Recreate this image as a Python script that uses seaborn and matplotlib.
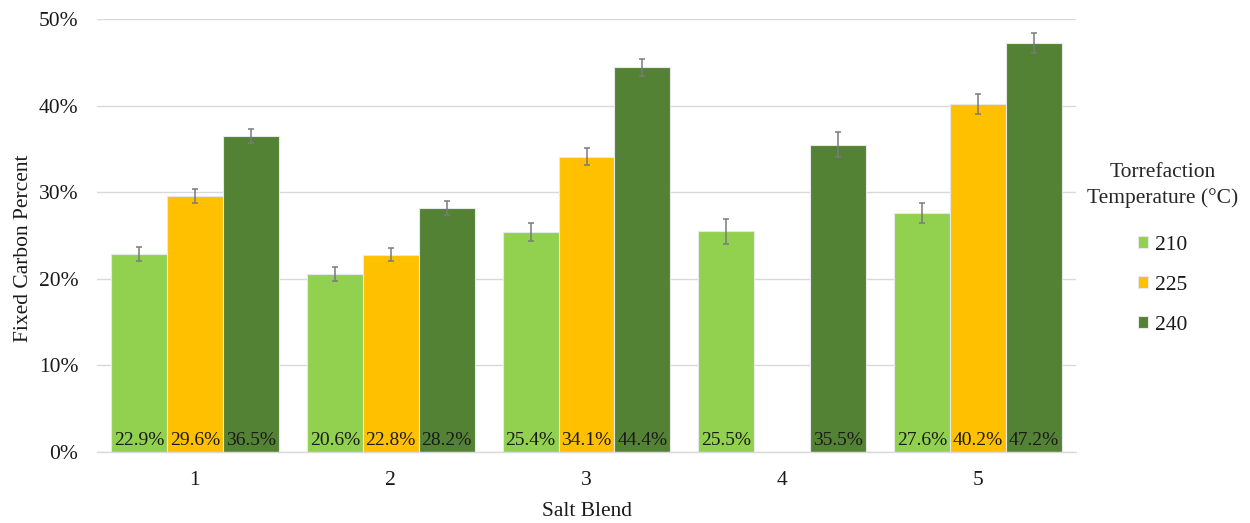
import numpy as np
import pandas as pd
import matplotlib
matplotlib.use("Agg")
import matplotlib.pyplot as plt
from matplotlib.ticker import FuncFormatter, FixedLocator
import seaborn as sns

# Fixed carbon content (%) per salt blend and torrefaction temperature
blends = ["1", "2", "3", "4", "5"]
temps = ["210", "225", "240"]
fc_210 = [22.9, 20.6, 25.4, 25.5, 27.6]
fc_225 = [29.6, 22.8, 34.1, np.nan, 40.2]
fc_240 = [36.5, 28.2, 44.4, 35.5, 47.2]
err_210 = [0.8, 0.8, 1.0, 1.45, 1.15]
err_225 = [0.8, 0.8, 1.0, np.nan, 1.15]
err_240 = [0.8, 0.8, 1.0, 1.45, 1.15]
colors = ["#92D050", "#FFC000", "#548235"]

rows = []
for t, vals, errs in zip(temps, [fc_210, fc_225, fc_240], [err_210, err_225, err_240]):
    for b, v, e in zip(blends, vals, errs):
        if not np.isnan(v):
            rows.append({"Salt Blend": b, "Temp": t, "FC": v, "err": e})
df = pd.DataFrame(rows)

sns.set_theme(style="white")
plt.rcParams["font.family"] = ["Liberation Serif", "DejaVu Serif"]

fig = plt.figure(figsize=(12.5, 5.23), dpi=100)
ax = fig.add_axes([0.0776, 0.1358, 0.7832, 0.8279])

sns.barplot(data=df, x="Salt Blend", y="FC", hue="Temp", order=blends,
            hue_order=temps, palette=colors, width=0.857, errorbar=None,
            edgecolor="#e8e8e8", linewidth=0.8, saturation=1, ax=ax, zorder=2)

# Error bars and value labels from each bar
for t, container in zip(temps, ax.containers):
    sub = df[df["Temp"] == t].set_index("Salt Blend")
    for bar in container:
        xc = bar.get_x() + bar.get_width() / 2
        b = blends[int(round(xc))]
        v = sub.loc[b, "FC"]
        e = sub.loc[b, "err"]
        ax.errorbar(xc, v, yerr=e, fmt="none", ecolor="#7a7a7a",
                    elinewidth=1.1, capsize=2.3, capthick=1.1, zorder=3)
        ax.text(xc, 0.35, f"{v:.1f}%", ha="center", va="bottom",
                fontsize=14, color="#1a1a1a", zorder=4)

ax.set_ylim(0, 50)
ax.set_xlim(-0.5, 4.5)
ax.yaxis.set_major_locator(FixedLocator([0, 10, 20, 30, 40, 50]))
ax.yaxis.set_major_formatter(FuncFormatter(lambda v, p: f"{v:.0f}%"))
ax.grid(axis="y", color="#d9d9d9", linewidth=1.0, zorder=0)
ax.set_axisbelow(True)

for s in ["top", "right", "left"]:
    ax.spines[s].set_visible(False)
ax.spines["bottom"].set_color("#d9d9d9")
ax.spines["bottom"].set_linewidth(1.0)

ax.set_xticks(range(len(blends)))
ax.set_xticklabels(blends)
ax.set_xticks(np.arange(-0.5, 5.0, 1.0), minor=True)
ax.tick_params(axis="x", which="major", length=0, pad=14, labelsize=15.5, colors="#1a1a1a")
ax.tick_params(axis="x", which="minor", length=7, width=1.0, color="#d9d9d9", direction="out")
ax.tick_params(axis="y", length=0, pad=13.5, labelsize=15.5, labelcolor="#1a1a1a")

ax.set_xlabel("Salt Blend", fontsize=15.5, color="#1a1a1a", labelpad=8)
ax.set_ylabel("Fixed Carbon Percent", fontsize=15.5, color="#1a1a1a")
ax.yaxis.set_label_coords(-0.065, 0.47)

handles, labels = ax.get_legend_handles_labels()
ax.legend_.remove()
leg = fig.legend(handles, labels, title="Torrefaction\nTemperature (°C)",
                 loc="upper center", bbox_to_anchor=(0.93, 0.688), frameon=False,
                 fontsize=15.5, title_fontsize=15.5, handlelength=0.5, handleheight=0.5,
                 handletextpad=0.3, labelspacing=0.97, borderaxespad=0, borderpad=0)
leg.get_title().set_multialignment("center")
leg.get_title().set_linespacing(1.4)
leg._legend_box.sep = 20
for txt in leg.get_texts():
    txt.set_color("#1a1a1a")

fig.savefig("out.png", dpi=100)
